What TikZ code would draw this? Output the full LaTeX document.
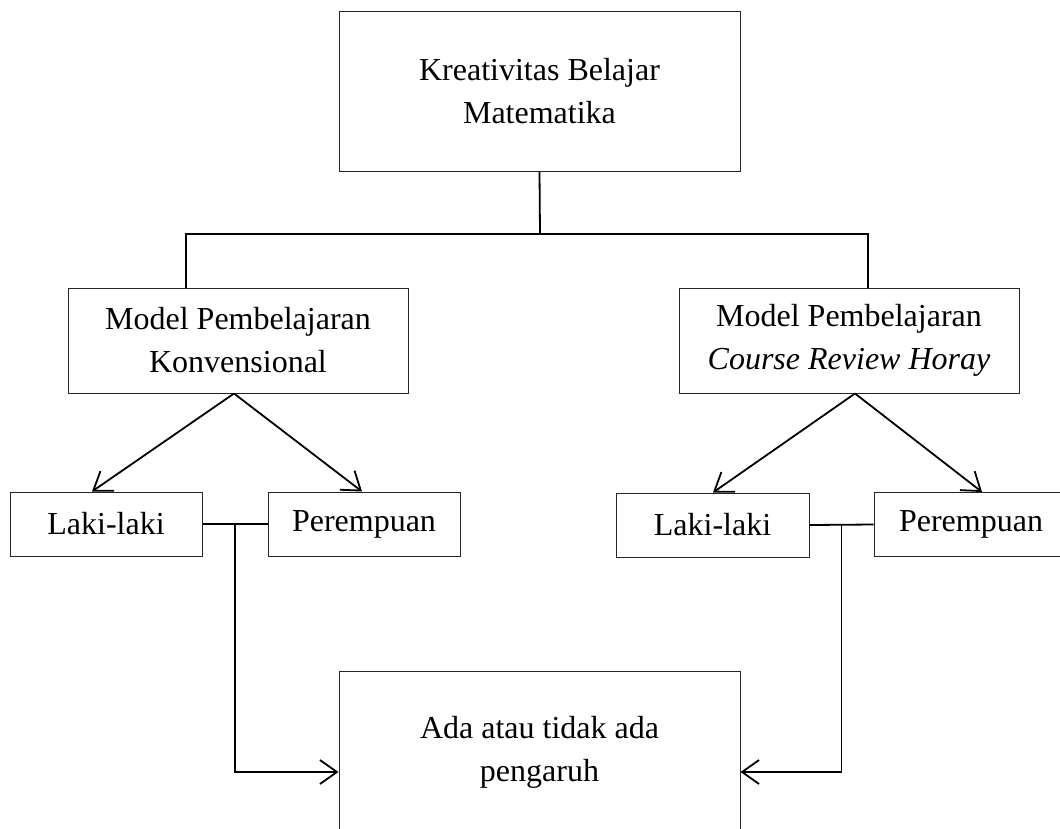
\documentclass[tikz,border=0pt]{standalone}
\usepackage{fontspec}
\setmainfont{Liberation Serif}
\usetikzlibrary{arrows.meta,calc}
\begin{document}
\begin{tikzpicture}[x=1pt,y=-1pt,
  box/.style={draw=black!85, line width=1pt, inner sep=0pt, align=center,
    font=\fontsize{32}{43}\selectfont},
  conn/.style={line width=1.8pt, black},
  arr/.style={conn, -{Straight Barb[length=17pt,width=24pt,line width=1.8pt]}}]
\useasboundingbox (0,0) rectangle (1060,828);
\clip (0,0) rectangle (1060,828);
\fill[white] (0,0) rectangle (1060,828);
\node[box, minimum width=401pt, minimum height=160pt] (top) at (539.5,91) {Kreativitas Belajar\\Matematika};
\node[box, minimum width=340pt, minimum height=105pt] (m1) at (238,340.5) {Model Pembelajaran\\Konvensional};
\node[box, minimum width=340pt, minimum height=105pt] (m2) at (849,340.5) {Model Pembelajaran\\\textit{Course Review Horay}};
\node[box, minimum width=192pt, minimum height=64pt] (lk1) at (106,524) {Laki-laki};
\node[box, minimum width=192pt, minimum height=64pt] (pr1) at (364,524) {Perempuan};
\node[box, minimum width=193pt, minimum height=64pt] (lk2) at (712.5,525) {Laki-laki};
\node[box, minimum width=194pt, minimum height=64pt] (pr2) at (971,524.5) {Perempuan};
\node[box, minimum width=401pt, minimum height=162pt] (bot) at (539.5,752) {Ada atau tidak ada\\pengaruh};
\coordinate (bus) at (540,234);
\draw[conn] (top.south) -- (bus);
\draw[conn] ([xshift=-52pt]m1.north) |- (bus) -| ([xshift=19pt]m2.north);
\draw[arr] ([xshift=-4pt]m1.south) -- ([xshift=-14pt]lk1.north);
\draw[arr] ([xshift=-4pt]m1.south) -- ([xshift=-2pt]pr1.north);
\draw[arr] ([xshift=6pt]m2.south) -- ([xshift=0.5pt]lk2.north);
\draw[arr] ([xshift=6pt]m2.south) -- ([xshift=11pt]pr2.north);
\coordinate (j1) at ($(lk1.east)!0.5!(pr1.west)$);
\coordinate (j2) at ($(lk2.east)!0.5!(pr2.west)$);
\draw[conn] (lk1.east) -- (pr1.west);
\draw[conn] (lk2.east) -- (pr2.west);
\draw[arr] (j1) |- ([yshift=-20pt]bot.west);
\draw[arr] (j2) |- ([yshift=-20pt]bot.east);
\end{tikzpicture}
\end{document}
